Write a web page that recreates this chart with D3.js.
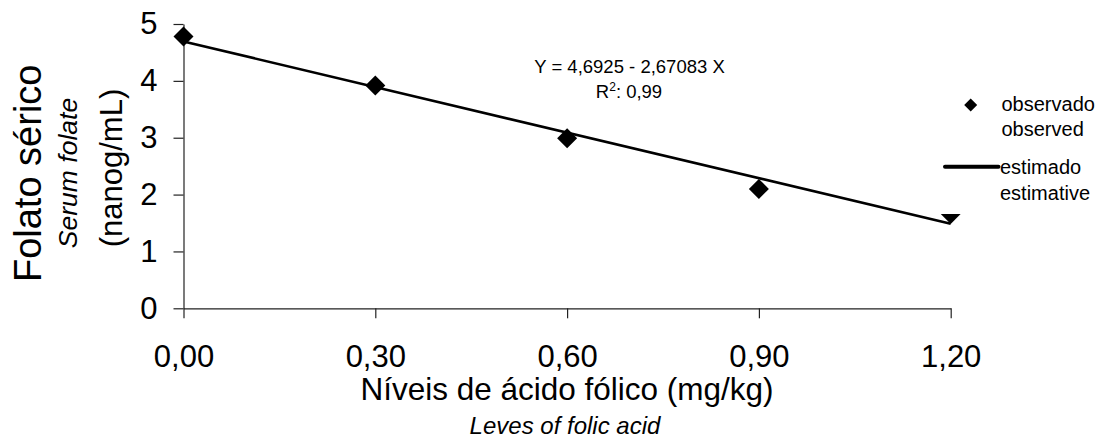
<!DOCTYPE html>
<html>
<head>
<meta charset="utf-8">
<script src="https://cdn.jsdelivr.net/npm/d3@7"></script>
<style>
  html, body { margin: 0; padding: 0; background: #fff; }
  svg { display: block; font-family: "Liberation Sans", Arial, sans-serif; }
</style>
</head>
<body>
<svg id="chart" width="1100" height="438"></svg>
<script>
// ---- data ----
const doses = [0, 0.3, 0.6, 0.9, 1.2];
const observed = [4.78, 3.92, 2.99, 2.10, 1.66];
const intercept = 4.6925;
const slope = -2.67083;
const xTicks = [0, 0.3, 0.6, 0.9, 1.2];
const yTicks = [0, 1, 2, 3, 4, 5];
const equationLabel = "Y = 4,6925 - 2,67083 X";
const r2Value = "0,99";
const legendObserved = ["observado", "observed"];
const legendEstimated = ["estimado", "estimative"];

const svg = d3.select("#chart");
const x = d3.scaleLinear().domain([0, 1.2]).range([183.5, 950.7]);
const y = d3.scaleLinear().domain([0, 5]).range([308.3, 24]);

// axes
const gx = svg.append("g").attr("transform", `translate(0,${y(0)})`)
  .call(d3.axisBottom(x).tickValues(xTicks).tickSize(10).tickSizeOuter(0).tickPadding(27)
    .tickFormat(d => d.toFixed(2).replace(".", ",")));
const gy = svg.append("g").attr("transform", `translate(${x(0)},0)`)
  .call(d3.axisLeft(y).tickValues(yTicks).tickSize(10).tickSizeOuter(0).tickPadding(16)
    .tickFormat(d3.format("d")));
[gx, gy].forEach(g => {
  g.selectAll("path, line").attr("stroke", "#222").attr("stroke-width", 1.2);
  g.selectAll("text").attr("fill", "#000").style("font-size", "31px")
    .style("font-family", '"Liberation Sans", Arial, sans-serif');
});

// fitted line
const fit = d3.line().x(d => x(d)).y(d => y(intercept + slope * d));
svg.append("path").datum([doses[0], doses[doses.length - 1]])
  .attr("d", fit).attr("fill", "none").attr("stroke", "#000").attr("stroke-width", 2.6);

// clip for last point (only lower half visible in reference), in the marker's local coords
const last = doses.length - 1;
svg.append("clipPath").attr("id", "lastClip").append("rect")
  .attr("x", -15).attr("y", 0).attr("width", 30).attr("height", 30);

const diamond = (w, h) => `M0,${-h}L${w},0L0,${h}L${-w},0Z`;
svg.append("g").selectAll("path").data(doses).join("path")
  .attr("d", diamond(10, 10))
  .attr("transform", (d, i) => `translate(${x(d)},${y(observed[i])})`)
  .attr("clip-path", (d, i) => i === last ? "url(#lastClip)" : null)
  .attr("fill", "#000");

// equation
svg.append("text").attr("x", 629.5).attr("y", 72.7).attr("text-anchor", "middle")
  .style("font-size", "18.5px").text(equationLabel);
const r2 = svg.append("text").attr("x", 629).attr("y", 97.7).attr("text-anchor", "middle")
  .style("font-size", "18.5px");
r2.append("tspan").text("R");
r2.append("tspan").attr("dy", -7).style("font-size", "12px").text("2");
r2.append("tspan").attr("dy", 7).text(": " + r2Value);

// legend
const lg = svg.append("g").style("font-size", "20px");
lg.append("path").attr("d", diamond(6.5, 6.5)).attr("transform", "translate(970.7,105)").attr("fill", "#000");
lg.append("text").attr("x", 1001.5).attr("y", 111).text(legendObserved[0]);
lg.append("text").attr("x", 1001.5).attr("y", 136).text(legendObserved[1]);
lg.append("line").attr("x1", 945).attr("x2", 998.5).attr("y1", 166.7).attr("y2", 166.7)
  .attr("stroke", "#000").attr("stroke-width", 4).attr("stroke-linecap", "round");
lg.append("text").attr("x", 1000).attr("y", 174).text(legendEstimated[0]);
lg.append("text").attr("x", 1000).attr("y", 200).text(legendEstimated[1]);

// axis titles
svg.append("text").attr("x", 567).attr("y", 400).attr("text-anchor", "middle")
  .style("font-size", "31.5px").text("Níveis de ácido fólico (mg/kg)");
svg.append("text").attr("x", 565).attr("y", 434).attr("text-anchor", "middle")
  .style("font-size", "24px").style("font-style", "italic").text("Leves of folic acid");

svg.append("text").attr("transform", "translate(41,173.3) rotate(-90)").attr("text-anchor", "middle")
  .style("font-size", "38px").text("Folato sérico");
svg.append("text").attr("transform", "translate(77,173) rotate(-90)").attr("text-anchor", "middle")
  .style("font-size", "26.5px").style("font-style", "italic").text("Serum folate");
svg.append("text").attr("transform", "translate(122,168) rotate(-90)").attr("text-anchor", "middle")
  .style("font-size", "31px").text("(nanog/mL)");
</script>
</body>
</html>
